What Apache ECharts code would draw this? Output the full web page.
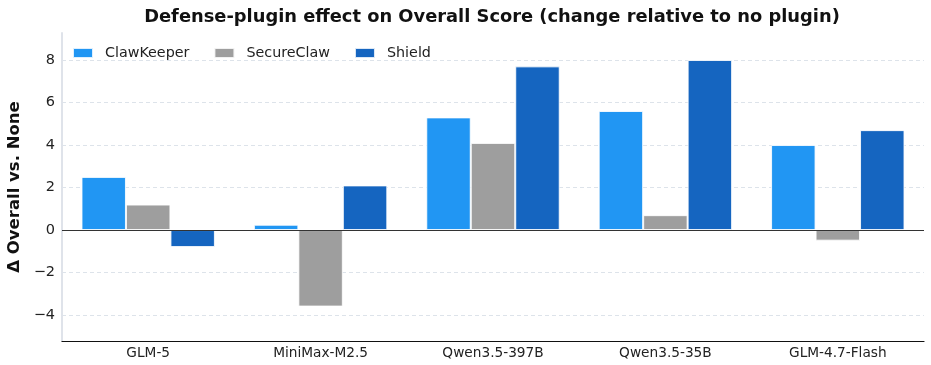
<!DOCTYPE html>
<html><head><meta charset="utf-8">
<script src="https://cdn.jsdelivr.net/npm/echarts@6/dist/echarts.min.js"></script>
<style>html,body{margin:0;padding:0;background:#fff}#c{width:931px;height:365px}</style>
</head><body><div id="c"></div>
<script>
const categories = ['GLM-5', 'MiniMax-M2.5', 'Qwen3.5-397B', 'Qwen3.5-35B', 'GLM-4.7-Flash'];
const clawKeeper = [2.5, 0.25, 5.3, 5.6, 4.0];
const secureClaw = [1.2, -3.6, 4.1, 0.7, -0.5];
const shield = [-0.8, 2.1, 7.7, 8.0, 4.7];
const yTicks = [-4, -2, 0, 2, 4, 6, 8];
const seriesNames = ['ClawKeeper', 'SecureClaw', 'Shield'];
const colors = ['#2196F3', '#9E9E9E', '#1565C0'];

const font = 'DejaVu Sans';
const chart = echarts.init(document.getElementById('c'), null, {renderer: 'canvas'});
const mk = (name, data, color, extra) => Object.assign({
  name, type: 'bar', data, barWidth: '25.8%', barGap: '0%',
  itemStyle: {color, borderColor: 'rgba(255,255,255,0.85)', borderWidth: 1},
  emphasis: {disabled: true}
}, extra || {});
chart.setOption({
  animation: false,
  textStyle: {fontFamily: font},
  title: {
    text: 'Defense-plugin effect on Overall Score (change relative to no plugin)',
    left: 487, textAlign: 'center', top: 3,
    textStyle: {fontFamily: font, fontSize: 17.85, fontWeight: 'bold', color: '#111'}
  },
  legend: {
    data: seriesNames, left: 67, top: 41, itemWidth: 20, itemHeight: 10, itemGap: 24,
    textStyle: {fontFamily: font, fontSize: 14.3, color: '#222', padding: [0, 0, 0, 7]}, icon: 'rect'
  },
  grid: {left: 62, right: 7, top: 33, bottom: 24, containLabel: false, outerBoundsMode: 'none'},
  xAxis: {
    type: 'category', data: categories,
    axisLine: {onZero: false, lineStyle: {color: '#111', width: 1.2}},
    axisTick: {show: false},
    axisLabel: {fontFamily: font, fontSize: 13.7, color: '#222', margin: 5}
  },
  yAxis: {
    type: 'value', min: -5.22, max: 9.27,
    name: 'Δ Overall vs. None', nameLocation: 'middle', nameGap: 38,
    nameTextStyle: {fontFamily: font, fontSize: 16.5, fontWeight: 'bold', color: '#111'},
    axisLine: {show: true, lineStyle: {color: '#dfe3ea', width: 2}},
    axisTick: {show: false, customValues: yTicks},
    axisLabel: {fontFamily: font, fontSize: 14.5, color: '#222', margin: 7,
      customValues: yTicks, formatter: v => (v < 0 ? '\u2212' + Math.abs(v) : String(v))},
    splitLine: {show: true, lineStyle: {color: '#dde3ea', type: [4, 3], width: 1}}
  },
  series: [
    mk(seriesNames[0], clawKeeper, colors[0], {
      markLine: {silent: true, symbol: 'none', label: {show: false},
        lineStyle: {color: '#333', width: 1.2, type: 'solid'}, data: [{yAxis: 0}]}
    }),
    mk(seriesNames[1], secureClaw, colors[1]),
    mk(seriesNames[2], shield, colors[2])
  ]
});
</script></body></html>
